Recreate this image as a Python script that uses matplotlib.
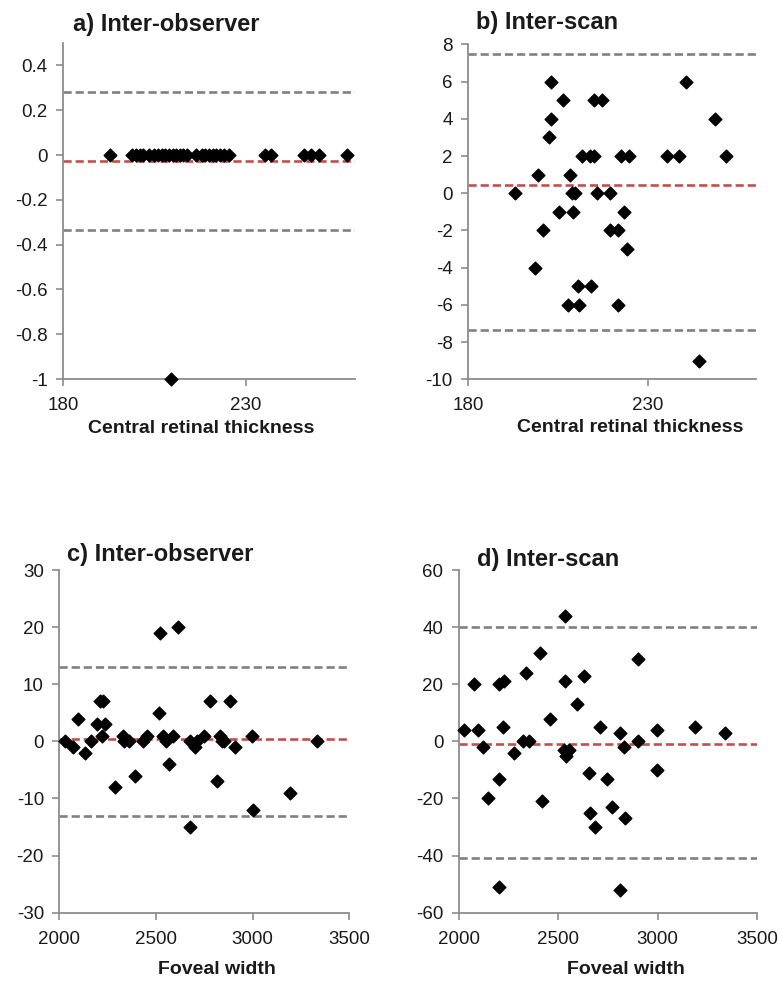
import matplotlib
matplotlib.use('Agg')
import matplotlib.pyplot as plt

plt.rcParams['font.family'] = ['Liberation Sans', 'DejaVu Sans']
plt.rcParams['axes.unicode_minus'] = False

# a) central retinal thickness, inter-observer
crt_obs_x = [192.8, 199, 200, 201, 202, 203.5, 205, 206, 207, 208, 209, 209.5, 210, 211, 212,
             213, 214, 216.5, 218, 219, 220, 221, 222, 223, 224, 225.5,
             235.2, 237.1, 246.1, 248, 250.2, 257.9]
crt_obs_y = [0, 0, 0, 0, 0, 0, 0, 0, 0, 0, 0, -1, 0, 0, 0,
             0, 0, 0, 0, 0, 0, 0, 0, 0, 0, 0,
             0, 0, 0, 0, 0, 0]
crt_obs_lines = [0.28, -0.025, -0.335]   # upper LoA, mean, lower LoA

# b) central retinal thickness, inter-scan
crt_scan_x = [193.0, 199.3, 198.7, 200.9, 202.5, 203.0, 203.0, 205.4, 206.4, 207.8, 208.3, 208.9,
              209.2, 209.8, 210.5, 210.9, 211.7, 213.9, 214.1, 214.9, 215.0, 215.8, 217.3, 219.4,
              219.4, 221.7, 221.7, 222.6, 223.3, 224.2, 224.6, 235.4, 238.7, 240.5, 244.2, 248.6, 251.7]
crt_scan_y = [0, 1, -4, -2, 3, 4, 6, -1, 5, -6, 1, 0,
              -1, 0, -5, -6, 2, 2, -5, 2, 5, 0, 5, 0,
              -2, -2, -6, 2, -1, -3, 2, 2, 2, 6, -9, 4, 2]
crt_scan_lines = [7.47, 0.45, -7.33]

# c) foveal width, inter-observer
fw_obs_x = [2029, 2069, 2098, 2133, 2162, 2197, 2210, 2219, 2224, 2234, 2286, 2331, 2334, 2360,
            2393, 2434, 2452, 2516, 2521, 2538, 2550, 2567, 2590, 2614, 2676, 2676, 2702, 2714,
            2748, 2779, 2818, 2831, 2840, 2852, 2883, 2909, 2998, 3003, 3196, 3334]
fw_obs_y = [0, -1, 4, -2, 0, 3, 7, 1, 7, 3, -8, 1, 0, 0,
            -6, 0, 1, 5, 19, 1, 0, -4, 1, 20, -15, 0, -1, 0,
            1, 7, -7, 1, 0, 0, 7, -1, 1, -12, -9, 0]
fw_obs_lines = [13.1, 0.5, -13.0]

# d) foveal width, inter-scan
fw_scan_x = [2025, 2079, 2099, 2121, 2149, 2201, 2201, 2204, 2226, 2221, 2277, 2325, 2338, 2355,
             2407, 2421, 2458, 2535, 2535, 2528, 2540, 2556, 2595, 2628, 2657, 2660, 2685, 2712,
             2744, 2771, 2813, 2813, 2830, 2836, 2903, 2903, 2995, 2997, 3190, 3341]
fw_scan_y = [4, 20, 4, -2, -20, 20, -13, -51, 21, 5, -4, 0, 24, 0,
             31, -21, 8, 44, 21, -3, -5, -3, 13, 23, -11, -25, -30, 5,
             -13, -23, 3, -52, -2, -27, 0, 29, -10, 4, 5, 3]
fw_scan_lines = [39.9, -0.9, -41.0]

fig = plt.figure(figsize=(7.82, 9.83), dpi=100)

panels = [
    dict(rect=[0.0806, 0.6144, 0.3734, 0.3418], x=crt_obs_x, y=crt_obs_y, lines=crt_obs_lines,
         xlim=(180, 260), xticks=[180, 230], ylim=(-1, 0.5),
         yticks=[-1, -0.8, -0.6, -0.4, -0.2, 0, 0.2, 0.4],
         yticklabels=['-1', '-0.8', '-0.6', '-0.4', '-0.2', '0', '0.2', '0.4'],
         title='a) Inter-observer', tpos=(0.034, 1.054),
         xlabel='Central retinal thickness', lpos=(0.473, -0.146)),
    dict(rect=[0.5985, 0.6141, 0.3683, 0.3408], x=crt_scan_x, y=crt_scan_y, lines=crt_scan_lines,
         xlim=(180, 260), xticks=[180, 230], ylim=(-10, 8),
         yticks=[-10, -8, -6, -4, -2, 0, 2, 4, 6, 8], yticklabels=None,
         title='b) Inter-scan', tpos=(0.028, 1.066),
         xlabel='Central retinal thickness', lpos=(0.5625, -0.145)),
    dict(rect=[0.0758, 0.0715, 0.3708, 0.3486], x=fw_obs_x, y=fw_obs_y, lines=fw_obs_lines,
         xlim=(2000, 3500), xticks=[2000, 2500, 3000, 3500], ylim=(-30, 30),
         yticks=[-30, -20, -10, 0, 10, 20, 30], yticklabels=None,
         title='c) Inter-observer', tpos=(0.027, 1.044),
         xlabel='Foveal width', lpos=(0.544, -0.167)),
    dict(rect=[0.5866, 0.0715, 0.3815, 0.3486], x=fw_scan_x, y=fw_scan_y, lines=fw_scan_lines,
         xlim=(2000, 3500), xticks=[2000, 2500, 3000, 3500], ylim=(-60, 60),
         yticks=[-60, -40, -20, 0, 20, 40, 60], yticklabels=None,
         title='d) Inter-scan', tpos=(0.061, 1.03),
         xlabel='Foveal width', lpos=(0.561, -0.167)),
]

for p in panels:
    ax = fig.add_axes(p['rect'])
    up, mean, low = p['lines']
    for val, col in [(up, '#808080'), (low, '#808080'), (mean, '#c0504d')]:
        ax.axhline(val, color=col, lw=1.9, ls=(0, (3.1, 1.5)), zorder=2)
    ax.scatter(p['x'], p['y'], marker='D', s=42, color='black', zorder=3, clip_on=False)
    ax.set_xlim(*p['xlim'])
    ax.set_ylim(*p['ylim'])
    ax.set_xticks(p['xticks'])
    ax.set_yticks(p['yticks'])
    if p['yticklabels']:
        ax.set_yticklabels(p['yticklabels'])
    for s in ['top', 'right']:
        ax.spines[s].set_visible(False)
    for s in ['left', 'bottom']:
        ax.spines[s].set_color('#8c8c8c')
        ax.spines[s].set_linewidth(1.3)
    ax.tick_params(direction='out', length=5, width=1.2, color='#8c8c8c',
                   labelsize=13.5, labelcolor='#1a1a1a')
    ax.tick_params(axis='y', pad=6)
    ax.tick_params(axis='x', pad=8)
    ax.text(p['tpos'][0], p['tpos'][1], p['title'], transform=ax.transAxes,
            fontsize=17, fontweight='bold', color='#1a1a1a', ha='left', va='center')
    ax.text(p['lpos'][0], p['lpos'][1], p['xlabel'], transform=ax.transAxes,
            fontsize=14, fontweight='bold', color='#1a1a1a', ha='center', va='center')

fig.savefig('out.png', dpi=100)
